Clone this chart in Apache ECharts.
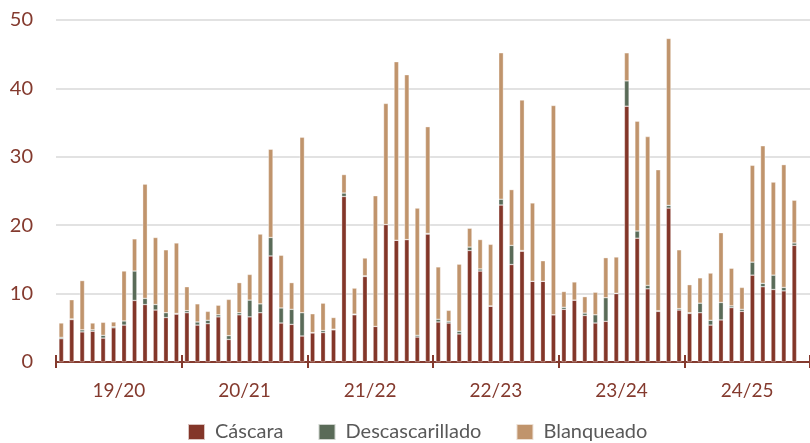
<!DOCTYPE html>
<html>
<head>
<meta charset="utf-8">
<script src="https://cdn.jsdelivr.net/npm/echarts@6/dist/echarts.min.js"></script>
<style>
  html, body { margin: 0; padding: 0; background: #fff; }
  #chart { width: 810px; height: 443px; }
</style>
</head>
<body>
<div id="chart"></div>
<script>
// seasons shown on the axis, 12 months each (last month of 24/25 still empty)
const seasons = ['19/20', '20/21', '21/22', '22/23', '23/24', '24/25'];
const monthNames = ['oct', 'nov', 'dic', 'ene', 'feb', 'mar', 'abr', 'may', 'jun', 'jul', 'ago', 'sep'];
const yTicks = [0, 10, 20, 30, 40, 50];

const cascara = [
  3.4, 6.2, 4.4, 4.5, 3.5, 5.0, 5.4, 9.0, 8.4, 7.6, 6.5, 7.0,
  7.2, 5.4, 5.6, 6.6, 3.3, 6.9, 6.6, 7.2, 15.5, 5.7, 5.5, 3.8,
  4.25, 4.3, 4.7, 24.2, 6.9, 12.5, 5.2, 20.1, 17.8, 17.9, 3.65, 18.7,
  5.85, 5.7, 4.1, 16.3, 13.3, 8.15, 22.95, 14.25, 16.2, 11.8, 11.8, 6.9,
  7.7, 9.05, 6.8, 5.7, 5.95, 10.0, 37.4, 18.1, 10.7, 7.4, 22.5, 7.6,
  7.1, 7.2, 5.4, 6.15, 7.95, 7.4, 12.7, 11.0, 10.6, 10.4, 17.05, null
];
const descascarillado = [
  0.2, 0.1, 0.3, 0.2, 0.4, 0.15, 0.6, 4.3, 0.9, 0.8, 0.7, 0.1,
  0.3, 0.45, 0.5, 0.3, 0.55, 0.3, 2.45, 1.3, 2.7, 2.2, 2.2, 3.4,
  0.05, 0.3, 0.1, 0.5, 0.1, 0.1, 0, 0, 0, 0, 0.25, 0.1,
  0.4, 0.25, 0.4, 0.5, 0.3, 0.05, 0.85, 2.8, 0.1, 0, 0, 0,
  0.3, 0, 0.35, 1.2, 3.45, 0.05, 3.7, 1.05, 0.5, 0.1, 0.4, 0.2,
  0.1, 1.4, 0.7, 2.55, 0.25, 0.3, 1.9, 0.5, 2.1, 0.5, 0.35, null
];
const blanqueado = [
  2.1, 2.8, 7.2, 1.0, 1.9, 0.7, 7.3, 4.7, 16.7, 9.8, 9.2, 10.3,
  3.5, 2.65, 1.3, 1.4, 5.3, 4.4, 3.75, 10.2, 12.9, 7.7, 3.9, 25.65,
  2.75, 4.0, 1.7, 2.7, 3.8, 2.6, 19.1, 17.7, 26.1, 24.1, 18.6, 15.6,
  7.65, 1.6, 9.8, 2.75, 4.3, 9.0, 21.4, 8.15, 22.0, 11.45, 3.0, 30.6,
  2.3, 2.65, 2.4, 3.3, 5.85, 5.3, 4.1, 16.05, 21.75, 20.6, 24.4, 8.6,
  4.1, 3.7, 6.9, 10.2, 5.5, 3.2, 14.15, 20.1, 13.6, 17.95, 6.25, null
];

const months = [];
seasons.forEach(s => monthNames.forEach(m => months.push(m + ' ' + s)));

const axisColor = '#843a2e';
const font = 'Lato, "Open Sans", sans-serif';

const mychart = echarts.init(document.getElementById('chart'));

function barSeries(name, data, color){
  return {
    name: name,
    type: 'bar',
    stack: 'total',
    xAxisIndex: 0,
    data: data,
    barWidth: '44%',
    itemStyle: { color: color, borderColor: 'rgba(255,255,255,0.7)', borderWidth: 0.5 }
  };
}

const option = {
  animation: false,
  textStyle: { fontFamily: font },
  grid: {
    top: 20,
    left: 56,
    right: 0,
    bottom: 81
  },
  legend: {
    top: 422,
    left: 182,
    padding: [0, 5],
    itemWidth: 17,
    itemHeight: 16,
    itemGap: 34,
    icon: 'rect',
    textStyle: { color: '#595959', fontSize: 20, fontFamily: font, padding: [0, 0, 0, 5] },
    data: ['Cáscara', 'Descascarillado', 'Blanqueado']
  },
  xAxis: [
    {
      type: 'category',
      data: months,
      show: false
    },
    {
      type: 'category',
      data: seasons,
      position: 'bottom',
      axisLine: { show: true, lineStyle: { color: axisColor, width: 2 } },
      axisTick: { show: true, length: 6, lineStyle: { color: axisColor, width: 2 } },
      axisLabel: { color: axisColor, fontSize: 19, margin: 19, fontFamily: font },
      splitLine: { show: false }
    },
    {
      type: 'category',
      data: seasons,
      position: 'bottom',
      axisLine: { show: false },
      axisTick: { show: true, inside: true, length: 7, lineStyle: { color: axisColor, width: 2 } },
      axisLabel: { show: false },
      splitLine: { show: false }
    }
  ],
  yAxis: [{
    type: 'value',
    min: yTicks[0],
    max: yTicks[yTicks.length - 1],
    interval: 10,
    axisLine: { show: false },
    axisTick: { show: false },
    axisLabel: { color: axisColor, fontSize: 20, margin: 23, fontFamily: font },
    splitLine: { lineStyle: { color: '#d9d9d9', width: 1.5 } }
  }],
  series: [
    barSeries('Cáscara', cascara, '#833629'),
    barSeries('Descascarillado', descascarillado, '#5a6b58'),
    barSeries('Blanqueado', blanqueado, '#c0946c')
  ]
};
mychart.setOption(option);
</script>
</body>
</html>
